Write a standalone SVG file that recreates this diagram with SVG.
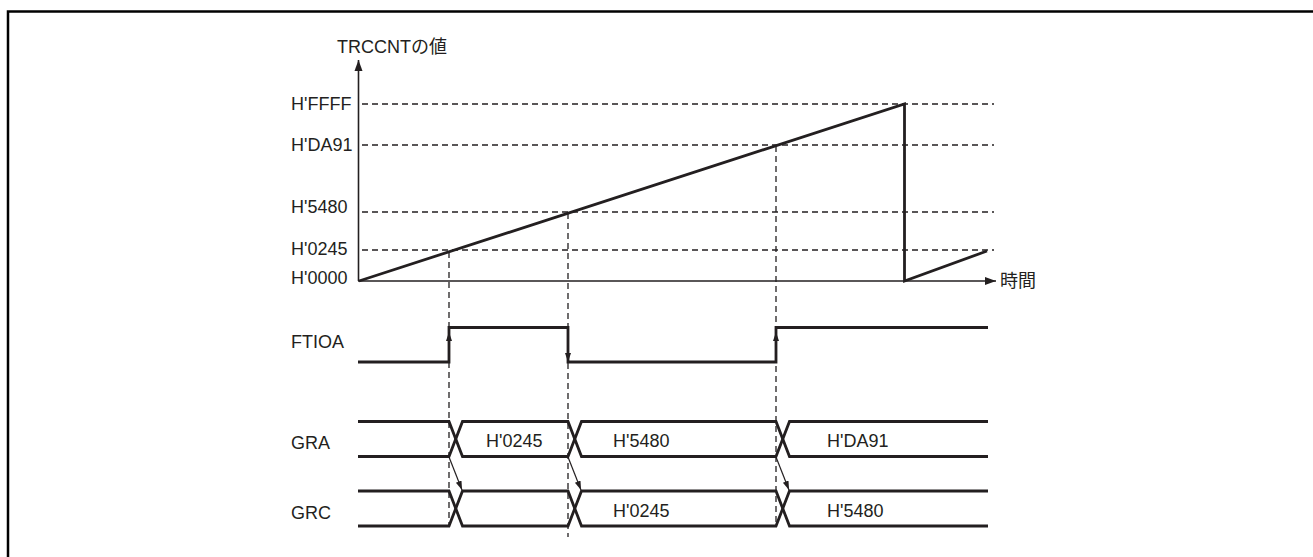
<svg xmlns="http://www.w3.org/2000/svg" width="1313" height="557" viewBox="0 0 1313 557">
<style>
text{font-family:"Liberation Sans","Noto Sans CJK JP",sans-serif;font-size:18px;fill:#231f20}
.dash{stroke:#231f20;stroke-width:1.3;stroke-dasharray:6 4;fill:none}
.axis{stroke:#231f20;stroke-width:1.6;fill:none}
.thick{stroke:#231f20;stroke-width:2.8;fill:none;stroke-linejoin:miter}
.thin{stroke:#231f20;stroke-width:1.2;fill:none}
</style>
<defs>
<marker id="ah" markerWidth="12" markerHeight="10" refX="11" refY="5" orient="auto" markerUnits="userSpaceOnUse"><path d="M0,1 L11,5 L0,9 Z" fill="#231f20"/></marker>
<marker id="sh" markerWidth="10" markerHeight="8" refX="9" refY="4" orient="auto" markerUnits="userSpaceOnUse"><path d="M0,1 L9,4 L0,7 Z" fill="#231f20"/></marker>
</defs>
<rect width="1313" height="557" fill="#fff"/>
<g id="frame"><path d="M8,557 V11.5 H1313" stroke="#000" stroke-width="2.5" fill="none"/></g>
<g id="connectors">
<g id="levels">
<line class="dash" x1="362" y1="104" x2="994" y2="104"/>
<line class="dash" x1="362" y1="145" x2="994" y2="145"/>
<line class="dash" x1="362" y1="212" x2="994" y2="212"/>
<line class="dash" x1="362" y1="250" x2="994" y2="250"/>
</g>
<g id="verticals">
<line class="dash" x1="449" y1="252" x2="449" y2="527"/>
<line class="dash" x1="568" y1="213" x2="568" y2="537"/>
<line class="dash" x1="776" y1="146" x2="776" y2="527"/>
</g>
<g id="axes">
<line class="axis" x1="358.5" y1="281" x2="358.5" y2="60" marker-end="url(#ah)"/>
<line class="axis" x1="358" y1="281" x2="996" y2="281" marker-end="url(#ah)"/>
</g>
<path id="ramp" class="thick" d="M359,281 L904.5,104 V281 L987,251"/>
<g id="ftioa-wave">
<path class="thick" d="M358,362 H449 V327.5 H568 V362 H776 V327.5 H988"/>
<line class="thin" x1="449" y1="345" x2="449" y2="332" marker-end="url(#sh)"/>
<line class="thin" x1="568" y1="345" x2="568" y2="362" marker-end="url(#sh)"/>
<line class="thin" x1="776" y1="345" x2="776" y2="332" marker-end="url(#sh)"/>
</g>
<g id="gra-bus">
<path class="thick" d="M358,421.5 H449 L462.5,456.5 H568 L581.5,421.5 H776 L789.5,456.5 H988"/>
<path class="thick" d="M358,456.5 H449 L462.5,421.5 H568 L581.5,456.5 H776 L789.5,421.5 H988"/>
</g>
<g id="grc-bus">
<path class="thick" d="M358,491 H449 L462.5,526 H568 L581.5,491 H776 L789.5,526 H988"/>
<path class="thick" d="M358,526 H449 L462.5,491 H568 L581.5,526 H776 L789.5,491 H988"/>
</g>
<g id="transfer-arrows">
<line class="thin" x1="449" y1="457" x2="462" y2="490" marker-end="url(#sh)"/>
<line class="thin" x1="568" y1="457" x2="581" y2="490" marker-end="url(#sh)"/>
<line class="thin" x1="776" y1="457" x2="789" y2="490" marker-end="url(#sh)"/>
</g>
</g>
<g id="label-axis-y"><text x="337" y="53">TRCCNTの値</text></g>
<g id="label-axis-x"><text x="1000" y="287">時間</text></g>
<g id="label-ffff"><text x="291" y="110">H'FFFF</text></g>
<g id="label-da91"><text x="291" y="151">H'DA91</text></g>
<g id="label-5480"><text x="291" y="213">H'5480</text></g>
<g id="label-0245"><text x="291" y="255">H'0245</text></g>
<g id="label-0000"><text x="291" y="283.5">H'0000</text></g>
<g id="label-ftioa"><text x="291" y="348">FTIOA</text></g>
<g id="label-gra"><text x="291" y="449">GRA</text></g>
<g id="label-grc"><text x="291" y="519">GRC</text></g>
<g id="gra-values">
<text x="486" y="447">H'0245</text>
<text x="613" y="447">H'5480</text>
<text x="827" y="447">H'DA91</text>
</g>
<g id="grc-values">
<text x="613" y="517">H'0245</text>
<text x="827" y="517">H'5480</text>
</g>
</svg>
